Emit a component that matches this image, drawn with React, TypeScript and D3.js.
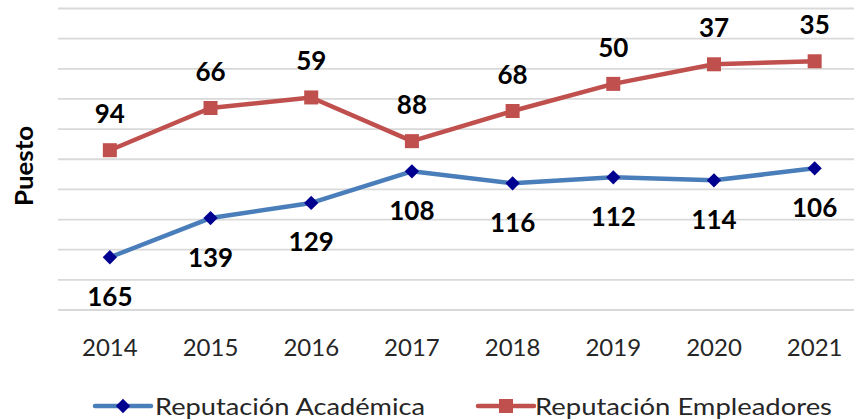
import React, { useEffect, useRef } from 'react'
import * as d3 from 'd3'

const years = ['2014', '2015', '2016', '2017', '2018', '2019', '2020', '2021']
const academica = [165, 139, 129, 108, 116, 112, 114, 106]
const empleadores = [94, 66, 59, 88, 68, 50, 37, 35]
const yTicks = [0, 20, 40, 60, 80, 100, 120, 140, 160, 180, 200]
const seriesNames = ['Reputación Académica', 'Reputación Empleadores']

const FONT = 'Lato, "Open Sans", sans-serif'

function App() {
  const svgRef = useRef<SVGSVGElement>(null)

  useEffect(() => {
    const width = 854
    const height = 420
    const svg = d3.select(svgRef.current)
    svg.selectAll('*').remove()
    svg.attr('width', width).attr('height', height)

    const x = d3.scaleBand().domain(years).range([59.5, 865])
    const cx = (d: string) => (x(d) as number) + x.bandwidth() / 2
    const y = d3.scaleLinear().domain([0, 200]).range([8.5, 310])

    // gridlines
    svg.append('g')
      .selectAll('line')
      .data(yTicks)
      .join('line')
      .attr('x1', 58)
      .attr('x2', 854)
      .attr('y1', d => y(d))
      .attr('y2', d => y(d))
      .style('stroke', '#d9d9d9')
      .style('stroke-width', 1.8)

    // x tick labels
    svg.append('g')
      .selectAll('text')
      .data(years)
      .join('text')
      .attr('x', d => cx(d))
      .attr('y', 356)
      .attr('text-anchor', 'middle')
      .style('font-family', FONT)
      .style('font-size', '24px')
      .style('fill', '#262626')
      .text(d => d)

    // axis title
    svg.append('text')
      .attr('transform', 'translate(33,166) rotate(-90)')
      .attr('text-anchor', 'middle')
      .attr('textLength', 80)
      .attr('lengthAdjust', 'spacingAndGlyphs')
      .style('font-family', FONT)
      .style('font-weight', 'bold')
      .style('font-size', '25px')
      .style('fill', '#000')
      .text('Puesto')

    const line = d3.line<number>()
      .x((d, i) => cx(years[i]))
      .y(d => y(d))

    // red series
    svg.append('path')
      .datum(empleadores)
      .attr('d', line)
      .style('fill', 'none')
      .style('stroke', '#c0504d')
      .style('stroke-width', 4.5)
      .style('stroke-linejoin', 'round')

    svg.append('g')
      .selectAll('rect')
      .data(empleadores)
      .join('rect')
      .attr('x', (d, i) => cx(years[i]) - 7)
      .attr('y', d => y(d) - 7)
      .attr('width', 14)
      .attr('height', 14)
      .style('fill', '#c0504d')

    // blue series
    svg.append('path')
      .datum(academica)
      .attr('d', line)
      .style('fill', 'none')
      .style('stroke', '#4a7ebb')
      .style('stroke-width', 4.5)
      .style('stroke-linejoin', 'round')

    const diamond = d3.symbol().type(d3.symbolDiamond2).size(130)
    svg.append('g')
      .selectAll('path')
      .data(academica)
      .join('path')
      .attr('d', diamond)
      .attr('transform', (d, i) => `translate(${cx(years[i])},${y(d)})`)
      .style('fill', '#000090')

    // data labels
    svg.append('g')
      .selectAll('text')
      .data(empleadores)
      .join('text')
      .attr('x', (d, i) => cx(years[i]))
      .attr('y', d => y(d) - 27)
      .attr('text-anchor', 'middle')
      .style('font-family', FONT)
      .style('font-weight', 'bold')
      .style('font-size', '26px')
      .style('fill', '#000')
      .text(d => d)

    svg.append('g')
      .selectAll('text')
      .data(academica)
      .join('text')
      .attr('x', (d, i) => cx(years[i]))
      .attr('y', d => y(d) + 48.5)
      .attr('text-anchor', 'middle')
      .style('font-family', FONT)
      .style('font-weight', 'bold')
      .style('font-size', '26px')
      .style('fill', '#000')
      .text(d => d)

    // legend
    const legend = svg.append('g')
    const items = [
      { name: seriesNames[0], color: '#4a7ebb', marker: '#000090', x0: 95, tx: 155, tl: 270, shape: 'diamond' },
      { name: seriesNames[1], color: '#c0504d', marker: '#c0504d', x0: 478, tx: 535, tl: 297, shape: 'square' }
    ]
    items.forEach(it => {
      legend.append('line')
        .attr('x1', it.x0)
        .attr('x2', it.x0 + 56)
        .attr('y1', 406)
        .attr('y2', 406)
        .style('stroke', it.color)
        .style('stroke-width', 4.5)
        .style('stroke-linecap', 'round')
      if (it.shape === 'diamond') {
        legend.append('path')
          .attr('d', diamond)
          .attr('transform', `translate(${it.x0 + 28},406)`)
          .style('fill', it.marker)
      } else {
        legend.append('rect')
          .attr('x', it.x0 + 28 - 7)
          .attr('y', 399)
          .attr('width', 14)
          .attr('height', 14)
          .style('fill', it.marker)
      }
      legend.append('text')
        .attr('x', it.tx)
        .attr('y', 415)
        .attr('textLength', it.tl)
        .attr('lengthAdjust', 'spacingAndGlyphs')
        .style('font-family', FONT)
        .style('font-size', '24px')
        .style('fill', '#262626')
        .text(it.name)
    })
  }, [])

  return (
    <svg ref={svgRef} style={{ position: 'absolute', left: 0, top: 0, background: '#fff' }}></svg>
  )
}

export default App
